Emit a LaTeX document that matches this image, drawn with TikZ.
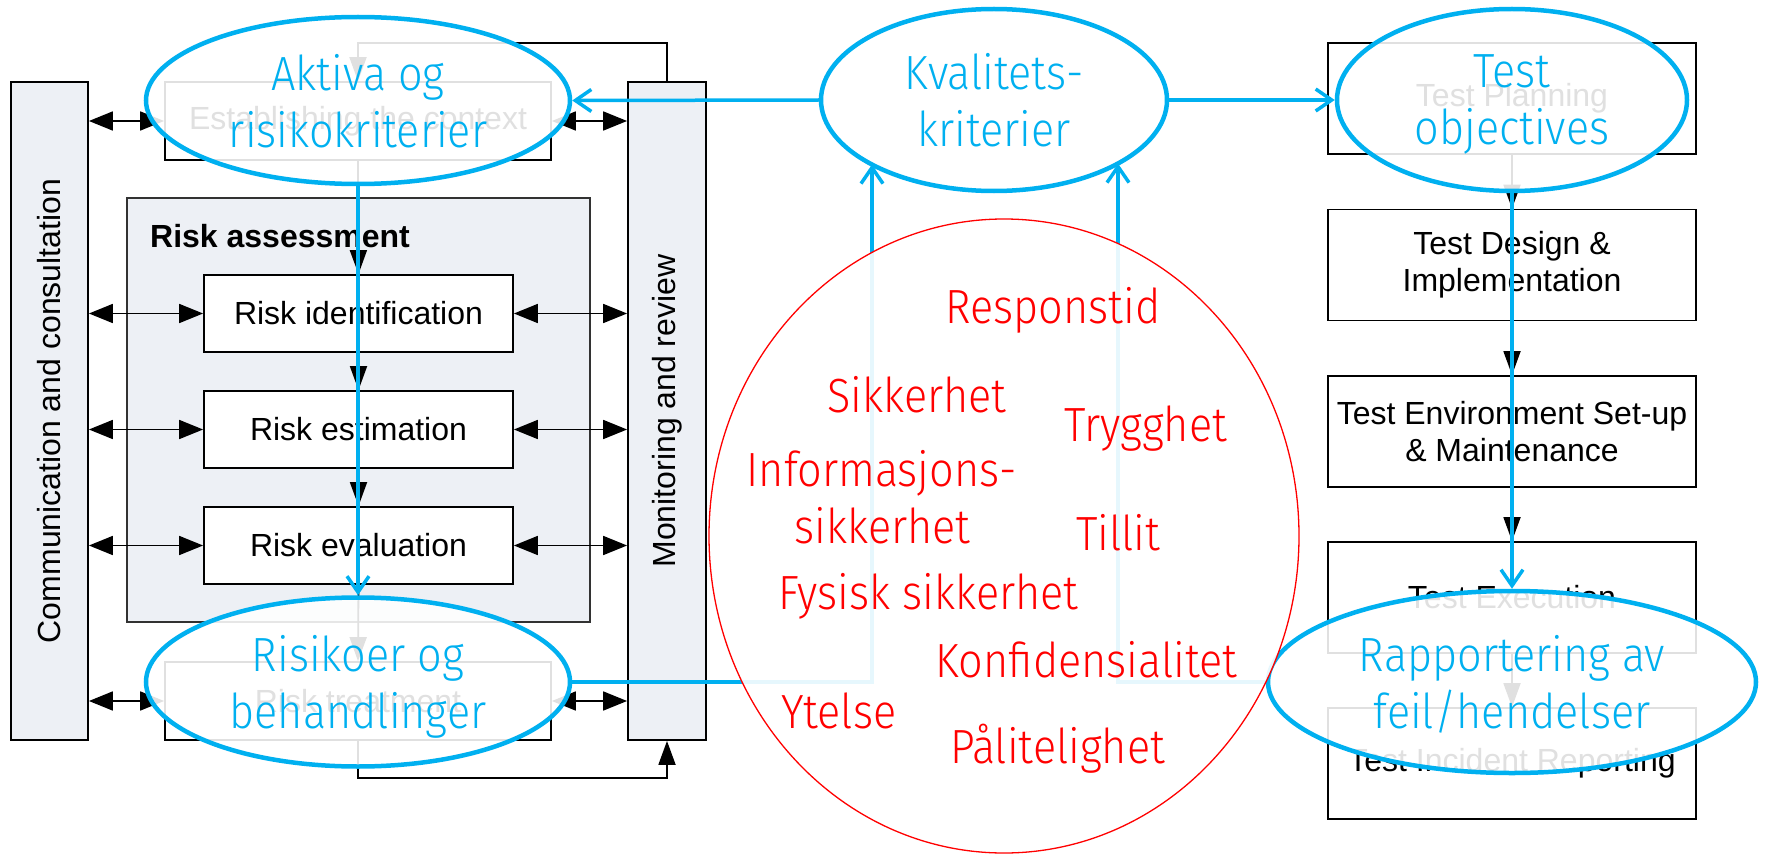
\documentclass[tikz,border=0pt]{standalone}
\usepackage{fontspec}
\setmainfont{Liberation Sans}
\newfontfamily\kfont[FakeStretch=0.9]{Fira Sans Light}
\usetikzlibrary{arrows.meta,shapes.geometric,calc}
\definecolor{kblue}{RGB}{0,176,240}
\definecolor{kred}{RGB}{255,0,0}
\definecolor{panel}{RGB}{237,240,245}
\definecolor{panelline}{RGB}{50,50,50}

\begin{document}
\begin{tikzpicture}[x=1pt,y=-1pt,
  procbox/.style={draw=black,line width=1.8pt,fill=white,inner sep=0pt,align=center,
    font=\fontsize{32}{37}\selectfont},
  sidebar/.style={draw=black,line width=1.8pt,fill=panel,inner sep=0pt},
  sidelabel/.style={rotate=90,inner sep=0pt,font=\fontsize{32}{37}\selectfont},
  dblarrow/.style={line width=1.8pt,{Triangle[length=24pt,width=19pt]}-{Triangle[length=24pt,width=19pt]}},
  flow/.style={line width=1.8pt,-{Triangle[length=24pt,width=17pt]}},
  bluebubble/.style={ellipse,draw=kblue,line width=4.5pt,fill=white,fill opacity=0.88,
    text opacity=1,inner sep=0pt,text depth=0pt,text=kblue,align=center,
    font=\kfont\fontsize{48}{57}\selectfont},
  blueflow/.style={draw=kblue,line width=3.5pt,-{Straight Barb[length=16pt,width=22pt]}},
  quality/.style={text=kred,inner sep=0pt,anchor=base,font=\kfont\fontsize{48}{57}\selectfont}]

\useasboundingbox (0,0) rectangle (1767,856);
\fill[white] (0,0) rectangle (1767,856);

% ---- risk management process (left) ----
\node[sidebar,minimum width=77pt,minimum height=658pt] (comm) at (49.5,411) {};
\node[sidelabel] (commtxt) at (comm.center) {Communication and consultation};
\node[sidebar,minimum width=78pt,minimum height=658pt] (mon) at (667,411) {};
\node[sidelabel] (montxt) at (mon.center) {Monitoring and review};

\node[draw=panelline,line width=1.8pt,fill=panel,inner sep=0pt,
  minimum width=463pt,minimum height=424pt] (assess) at (358.5,410) {};
\node[anchor=base west,inner sep=0pt,font=\bfseries\fontsize{32}{37}\selectfont]
  (assesstxt) at (150,247) {Risk assessment};

\node[procbox,minimum width=386pt,minimum height=78pt] (est) at (358,121) {Establishing the context};
\node[procbox,minimum width=309pt,minimum height=77pt] (ri) at (358.5,313.5) {Risk identification};
\node[procbox,minimum width=309pt,minimum height=77pt] (rs) at (358.5,429.5) {Risk estimation};
\node[procbox,minimum width=309pt,minimum height=77pt] (rv) at (358.5,545.5) {Risk evaluation};
\node[procbox,minimum width=386pt,minimum height=78pt] (rt) at (358,701) {Risk treatment};

\foreach \n in {est,ri,rs,rv,rt}{
  \draw[dblarrow] (comm.east |- \n.west) -- (\n.west);
  \draw[dblarrow] (\n.east) -- (mon.west |- \n.east);
}
\draw[flow] (est.south) -- (ri.north);
\draw[flow] (ri.south) -- (rs.north);
\draw[flow] (rs.south) -- (rv.north);
\draw[flow] (rv.south) -- (rt.north);
\coordinate (fbtop) at (358,43);
\coordinate (fbbot) at (358,778);
\draw[flow] (mon.north) |- (fbtop) -- (est.north);
\draw[flow] (rt.south) -- (fbbot) -| (mon.south);

% ---- test process (right) ----
\node[procbox,minimum width=368pt,minimum height=111pt] (tp) at (1512,98.5) {Test Planning};
\node[procbox,minimum width=368pt,minimum height=111pt] (td) at (1512,265) {Test Design \&\\Implementation};
\node[procbox,minimum width=368pt,minimum height=111pt] (te) at (1512,431.5) {Test Environment Set-up\\\& Maintenance};
\node[procbox,minimum width=368pt,minimum height=111pt] (tx) at (1512,597.5) {Test Execution};
\node[procbox,minimum width=368pt,minimum height=111pt] (ti) at (1512,763.5) {Test Incident Reporting};
\draw[flow] (tp.south) -- (td.north);
\draw[flow] (td.south) -- (te.north);
\draw[flow] (te.south) -- (tx.north);
\draw[flow] (tx.south) -- (ti.north);

% ---- blue overlay bubbles ----
\node[bluebubble,minimum width=424pt,minimum height=167pt] (aktiva) at (358,100.5) {Aktiva og\\risikokriterier};
\node[bluebubble,minimum width=424pt,minimum height=169pt] (risikoer) at (358,682) {Risikoer og\\behandlinger};
\node[bluebubble,minimum width=346pt,minimum height=182pt] (kval) at (994,100) {Kvalitets-\\kriterier};
\node[bluebubble,minimum width=350pt,minimum height=182pt] (tobj) at (1512,100) {Test\\objectives};
\node[bluebubble,minimum width=488pt,minimum height=182pt] (rapp) at (1512,682) {Rapportering av\\feil/hendelser};

\coordinate (kin1) at (872,164.5);
\coordinate (kin2) at (1118,163.5);
\draw[blueflow] (kval.west) -- (aktiva.east);
\draw[blueflow] (kval.east) -- (tobj.west);
\draw[blueflow] (aktiva.south) -- (risikoer.north);
\draw[blueflow] (tobj.south) -- (rapp.north);
\draw[blueflow] (risikoer.east) -| (kin1);
\draw[blueflow] (rapp.west) -| (kin2);

% ---- quality attributes ----
\node[ellipse,draw=kred,line width=1.3pt,fill=white,fill opacity=0.9,inner sep=0pt,
  minimum width=590pt,minimum height=634pt] (attrs) at (1004,536) {};
\node[quality] (q1) at (1053,323) {Responstid};
\node[quality] (q2) at (917,412) {Sikkerhet};
\node[quality] (q3) at (1145.5,441) {Trygghet};
\node[quality] (q4) at (881.5,486) {Informasjons-};
\node[quality] (q5) at (882.5,543) {sikkerhet};
\node[quality] (q6) at (1118,550) {Tillit};
\node[quality] (q7) at (928.5,609) {Fysisk sikkerhet};
\node[quality] (q8) at (1086.5,677) {Konfidensialitet};
\node[quality] (q9) at (839,728) {Ytelse};
\node[quality] (q10) at (1057.5,763) {Pålitelighet};
\end{tikzpicture}
\end{document}
